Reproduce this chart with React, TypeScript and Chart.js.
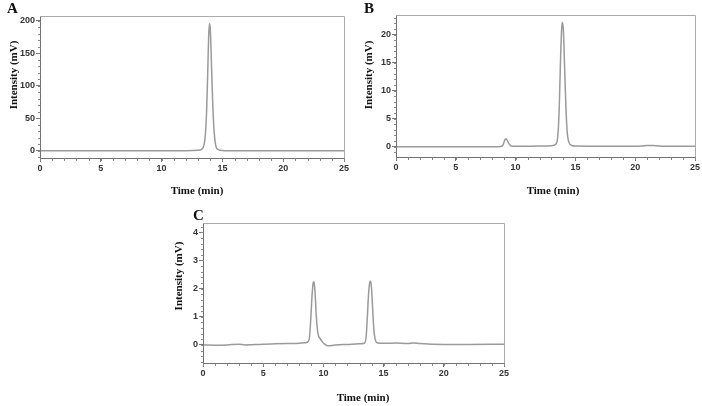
import { useEffect, useRef } from "react";
import { Chart, registerables } from "chart.js";

Chart.register(...registerables);

// Chromatogram A: retention time (min) / detector signal (mV)
const timeA = [0, 2, 5, 8, 9.8, 10.2, 12, 13, 13.3, 13.5, 13.6, 13.7, 13.8, 13.87, 13.93, 13.99, 14.05, 14.12, 14.2, 14.3, 14.4, 14.5, 14.7, 15, 16, 20, 22, 25];
const signalA = [0, 0, 0.1, 0, 0.3, 0, 0.3, 0.8, 2.5, 10, 25, 60, 125, 175, 195, 190, 165, 120, 75, 35, 14, 5, 1.5, 0.5, 0, 0, 0.2, 0];

// Chromatogram B
const timeB = [0, 5, 8.5, 8.9, 9.0, 9.1, 9.2, 9.3, 9.45, 9.6, 9.8, 10.5, 12, 13, 13.4, 13.55, 13.65, 13.75, 13.85, 13.92, 14.0, 14.1, 14.2, 14.3, 14.45, 14.7, 15, 18, 20, 21, 21.5, 22.5, 25];
const signalB = [0, 0, 0, 0.1, 0.6, 1.2, 1.4, 1.1, 0.5, 0.15, 0.05, 0.05, 0.1, 0.15, 0.5, 2.5, 7, 15, 21, 22.2, 20.5, 14, 7.5, 3, 0.8, 0.2, 0.1, 0.05, 0.05, 0.2, 0.2, 0.05, 0.05];

// Chromatogram C
const timeC = [0, 1, 2, 3, 3.5, 4, 5, 6, 7, 8, 8.5, 8.75, 8.85, 8.95, 9.05, 9.15, 9.22, 9.3, 9.4, 9.5, 9.6, 9.75, 9.9, 10.1, 10.4, 10.7, 11, 12, 13, 13.4, 13.55, 13.65, 13.75, 13.85, 13.92, 14.0, 14.1, 14.2, 14.3, 14.45, 15, 16, 17, 17.5, 18, 20, 22, 25];
const signalC = [0, -0.01, 0, 0.03, 0, 0.01, 0.03, 0.04, 0.05, 0.06, 0.08, 0.12, 0.3, 0.9, 1.7, 2.2, 2.24, 1.9, 1.1, 0.55, 0.32, 0.22, 0.12, 0.03, -0.03, -0.02, 0, 0.02, 0.04, 0.06, 0.3, 1.0, 1.8, 2.22, 2.27, 2.0, 1.2, 0.5, 0.2, 0.08, 0.06, 0.07, 0.05, 0.07, 0.05, 0.02, 0.02, 0.03];

// Axis tick labels
const timeTicks = [0, 5, 10, 15, 20, 25];
const ticksA = [0, 50, 100, 150, 200];
const ticksB = [0, 5, 10, 15, 20];
const ticksC = [0, 1, 2, 3, 4];

const SERIF = '"Liberation Serif", "Times New Roman", serif';
const SANS = '"Liberation Sans", Arial, sans-serif';

// Box around the plot area plus short minor ticks on both axes
const framePlugin = {
  id: "frame",
  afterDraw(chart: any, _args: any, opts: any) {
    const { ctx, chartArea: a, scales } = chart;
    const L = Math.round(a.left) + 0.5;
    const R = Math.round(a.right) + 0.5;
    const T = Math.round(a.top) + 0.5;
    const B = Math.round(a.bottom) + 0.5;
    ctx.save();
    ctx.lineWidth = 1;
    ctx.strokeStyle = "#aaaaaa";
    ctx.beginPath();
    ctx.moveTo(L, T);
    ctx.lineTo(R, T);
    ctx.lineTo(R, B);
    ctx.stroke();
    ctx.strokeStyle = "#707070";
    ctx.beginPath();
    ctx.moveTo(L, T);
    ctx.lineTo(L, B);
    ctx.lineTo(R, B);
    ctx.stroke();

    ctx.strokeStyle = "#888";
    const xs = scales.x;
    for (let v = 0; v <= xs.max + 1e-9; v += opts.xMinor) {
      const px = Math.round(xs.getPixelForValue(v)) + 0.5;
      ctx.beginPath();
      ctx.moveTo(px, B);
      ctx.lineTo(px, B + 2.5);
      ctx.stroke();
    }
    const ys = scales.y;
    const start = Math.ceil(ys.min / opts.yMinor) * opts.yMinor;
    for (let v = start; v <= ys.max + 1e-9; v += opts.yMinor) {
      const py = Math.round(ys.getPixelForValue(v)) + 0.5;
      ctx.beginPath();
      ctx.moveTo(L, py);
      ctx.lineTo(L - 2.5, py);
      ctx.stroke();
    }
    ctx.restore();
  },
};

type PanelProps = {
  left: number;
  top: number;
  width: number;
  height: number;
  area: { l: number; t: number; r: number; b: number };
  times: number[];
  values: number[];
  yTicks: number[];
  yMin: number;
  yMax: number;
  yMinor: number;
};

function Panel(p: PanelProps) {
  const ref = useRef<HTMLCanvasElement | null>(null);

  useEffect(() => {
    if (!ref.current) return;
    const points = p.times.map((t, i) => ({ x: t, y: p.values[i] }));
    const tickFont = { family: SANS, size: 9, weight: "bold" as const };
    const chart = new Chart(ref.current, {
      type: "line",
      data: {
        datasets: [
          {
            data: points,
            borderColor: "#9a9a9a",
            borderWidth: 1.5,
            pointRadius: 0,
            cubicInterpolationMode: "monotone",
            fill: false,
          },
        ],
      },
      options: {
        responsive: false,
        animation: false,
        devicePixelRatio: 1,
        layout: {
          padding: { left: 0, top: p.area.t, right: p.width - p.area.r, bottom: 0 },
        },
        plugins: {
          legend: { display: false },
          tooltip: { enabled: false },
          frame: { xMinor: 1, yMinor: p.yMinor },
        } as any,
        scales: {
          x: {
            type: "linear",
            min: 0,
            max: 25,
            afterBuildTicks: (s: any) => {
              s.ticks = timeTicks.map((v) => ({ value: v }));
            },
            afterFit: (s: any) => {
              s.height = p.height - p.area.b;
            },
            border: { display: false },
            grid: { drawOnChartArea: false, drawTicks: true, tickLength: 4, tickColor: "#777" },
            ticks: { font: tickFont, color: "#333", padding: 1, maxRotation: 0 },
          },
          y: {
            type: "linear",
            min: p.yMin,
            max: p.yMax,
            afterBuildTicks: (s: any) => {
              s.ticks = p.yTicks.map((v) => ({ value: v }));
            },
            afterFit: (s: any) => {
              s.width = p.area.l;
            },
            border: { display: false },
            grid: { drawOnChartArea: false, drawTicks: true, tickLength: 4, tickColor: "#777" },
            ticks: { font: tickFont, color: "#333", padding: 1 },
          },
        },
      },
      plugins: [framePlugin],
    });
    return () => chart.destroy();
  }, []);

  return (
    <canvas
      ref={ref}
      width={p.width}
      height={p.height}
      style={{ position: "absolute", left: p.left, top: p.top, width: p.width, height: p.height }}
    />
  );
}

function Letter({ text, x, y }: { text: string; x: number; y: number }) {
  return (
    <div
      style={{
        position: "absolute",
        left: x,
        top: y,
        font: `bold 15px ${SERIF}`,
        lineHeight: "15px",
        color: "#111",
      }}
    >
      {text}
    </div>
  );
}

function XTitle({ cx, cy }: { cx: number; cy: number }) {
  return (
    <div
      style={{
        position: "absolute",
        left: cx - 60,
        top: cy - 7,
        width: 120,
        height: 14,
        textAlign: "center",
        font: `bold 11px ${SERIF}`,
        lineHeight: "14px",
        color: "#111",
      }}
    >
      Time (min)
    </div>
  );
}

function YTitle({ cx, cy }: { cx: number; cy: number }) {
  return (
    <div
      style={{
        position: "absolute",
        left: cx - 60,
        top: cy - 7,
        width: 120,
        height: 14,
        textAlign: "center",
        font: `bold 11px ${SERIF}`,
        lineHeight: "14px",
        color: "#111",
        transform: "rotate(-90deg)",
      }}
    >
      Intensity (mV)
    </div>
  );
}

export default function App() {
  return (
    <div
      style={{
        position: "fixed",
        left: 0,
        top: 0,
        width: 702,
        height: 406,
        background: "#fff",
        overflow: "hidden",
      }}
    >
      <Panel
        left={0}
        top={0}
        width={351}
        height={200}
        area={{ l: 40, t: 16, r: 344, b: 158 }}
        times={timeA}
        values={signalA}
        yTicks={ticksA}
        yMin={-11}
        yMax={207}
        yMinor={10}
      />
      <Panel
        left={351}
        top={0}
        width={351}
        height={200}
        area={{ l: 45, t: 15, r: 344, b: 157 }}
        times={timeB}
        values={signalB}
        yTicks={ticksB}
        yMin={-1.85}
        yMax={23.5}
        yMinor={1}
      />
      <Panel
        left={160}
        top={200}
        width={370}
        height={206}
        area={{ l: 43, t: 23, r: 344, b: 163 }}
        times={timeC}
        values={signalC}
        yTicks={ticksC}
        yMin={-0.64}
        yMax={4.33}
        yMinor={0.2}
      />
      <Letter text="A" x={7} y={1} />
      <Letter text="B" x={364} y={1} />
      <Letter text="C" x={193} y={208} />
      <YTitle cx={12.5} cy={75} />
      <YTitle cx={368} cy={75} />
      <YTitle cx={177.5} cy={276} />
      <XTitle cx={197} cy={190} />
      <XTitle cx={553} cy={190} />
      <XTitle cx={363} cy={397} />
    </div>
  );
}
